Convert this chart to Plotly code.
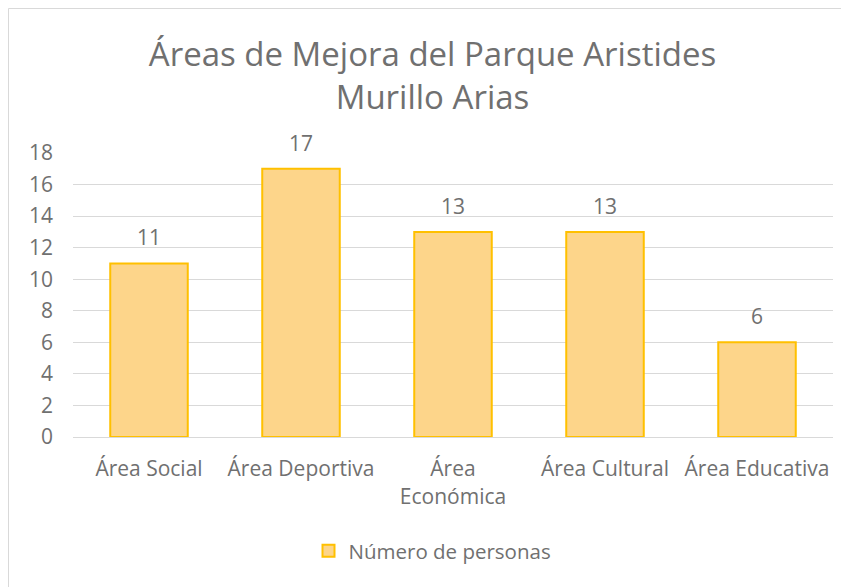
import plotly.graph_objects as go

categories = ["Área Social", "Área Deportiva", "Área Económica", "Área Cultural", "Área Educativa"]
tick_labels = ["Área Social", "Área Deportiva", "Área<br>Económica", "Área Cultural", "Área Educativa"]
values = [11, 17, 13, 13, 6]
series_name = "Número de personas"
y_ticks = [0, 2, 4, 6, 8, 10, 12, 14, 16, 18]

W, H = 849, 587
L, R, T, B = 65, 24, 145, 158
text_col = "#707070"
font = "Open Sans"

fig = go.Figure()
fig.add_trace(go.Bar(
    x=categories, y=values, name=series_name,
    marker=dict(color="#FDD58A", line=dict(color="#FFC000", width=2)),
))

annotations = [
    dict(x=c, y=v, xref="x", yref="y", text=str(v), showarrow=False,
         yanchor="middle", yshift=26,
         font=dict(family=font, size=21, color=text_col))
    for c, v in zip(categories, values)
]


def px(x):
    return (x - L) / (W - L - R)


def py(y):
    return (H - B - y) / (H - T - B)


fig.update_layout(
    width=W, height=H,
    margin=dict(l=L, r=R, t=T, b=B),
    paper_bgcolor="white", plot_bgcolor="white",
    bargap=0.49,
    showlegend=True,
    annotations=annotations,
    title=dict(text="Áreas de Mejora del Parque Aristides<br>Murillo Arias",
               x=0.5, xref="container", xanchor="center", y=1 - 58 / H, yanchor="middle",
               font=dict(family=font, size=33, color=text_col)),
    legend=dict(orientation="h", x=0.5, xanchor="center", xref="container",
                y=1 - 543 / H, yref="container", yanchor="middle",
                font=dict(family=font, size=20.5, color=text_col)),
    font=dict(family=font, color=text_col),
    shapes=[dict(type="rect", xref="paper", yref="paper",
                 x0=px(0.5), x1=px(W - 0.5), y0=py(H - 0.5), y1=py(0.5),
                 line=dict(color="#D9D9D9", width=1), layer="below")],
)
fig.update_xaxes(
    tickvals=categories, ticktext=tick_labels,
    showgrid=False, showline=True, linecolor="#D9D9D9", linewidth=1,
    tickfont=dict(family=font, size=21, color=text_col), ticks="", ticklabelstandoff=13,
)
fig.update_yaxes(
    range=[0, 18], tickvals=y_ticks,
    showgrid=True, gridcolor="#D9D9D9", gridwidth=1, zeroline=False,
    showline=False, ticks="",
    tickfont=dict(family=font, size=21, color=text_col), ticklabelstandoff=19,
)

fig.write_html("out.html")
